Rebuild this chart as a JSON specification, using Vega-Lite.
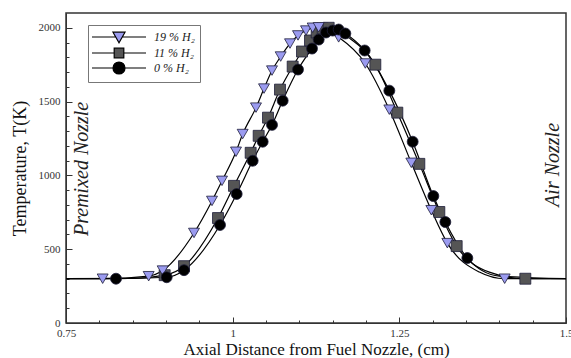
{
  "$schema": "https://vega.github.io/schema/vega-lite/v6.json",
  "width": 500,
  "height": 310,
  "autosize": "none",
  "padding": {"left": 66, "top": 13, "right": 5, "bottom": 35},
  "background": "white",
  "config": {
    "view": {"stroke": "#333", "strokeWidth": 1.5},
    "font": "Liberation Serif"
  },
  "data": {
    "values": [
      {"series": "11", "kind": "c", "x": 0.75, "t": 300},
      {"series": "11", "kind": "c", "x": 0.85, "t": 302},
      {"series": "11", "kind": "m", "x": 0.898, "t": 324},
      {"series": "11", "kind": "m", "x": 0.927, "t": 385},
      {"series": "11", "kind": "m", "x": 0.978, "t": 711},
      {"series": "11", "kind": "m", "x": 1.002, "t": 929},
      {"series": "11", "kind": "m", "x": 1.027, "t": 1153},
      {"series": "11", "kind": "m", "x": 1.039, "t": 1268},
      {"series": "11", "kind": "m", "x": 1.053, "t": 1391},
      {"series": "11", "kind": "m", "x": 1.071, "t": 1581},
      {"series": "11", "kind": "m", "x": 1.09, "t": 1737},
      {"series": "11", "kind": "m", "x": 1.104, "t": 1839},
      {"series": "11", "kind": "m", "x": 1.116, "t": 1914},
      {"series": "11", "kind": "m", "x": 1.126, "t": 1968},
      {"series": "11", "kind": "m", "x": 1.135, "t": 1995},
      {"series": "11", "kind": "m", "x": 1.144, "t": 2000},
      {"series": "11", "kind": "c", "x": 1.175, "t": 1930},
      {"series": "11", "kind": "m", "x": 1.214, "t": 1750},
      {"series": "11", "kind": "m", "x": 1.247, "t": 1425},
      {"series": "11", "kind": "m", "x": 1.28, "t": 1078},
      {"series": "11", "kind": "m", "x": 1.31, "t": 752},
      {"series": "11", "kind": "m", "x": 1.336, "t": 521},
      {"series": "11", "kind": "c", "x": 1.385, "t": 345},
      {"series": "11", "kind": "m", "x": 1.439, "t": 300},
      {"series": "11", "kind": "c", "x": 1.5, "t": 300},

      {"series": "19", "kind": "c", "x": 0.75, "t": 300},
      {"series": "19", "kind": "m", "x": 0.805, "t": 300},
      {"series": "19", "kind": "m", "x": 0.874, "t": 317},
      {"series": "19", "kind": "m", "x": 0.895, "t": 355},
      {"series": "19", "kind": "m", "x": 0.942, "t": 610},
      {"series": "19", "kind": "m", "x": 0.969, "t": 827},
      {"series": "19", "kind": "m", "x": 0.984, "t": 963},
      {"series": "19", "kind": "m", "x": 1.005, "t": 1160},
      {"series": "19", "kind": "m", "x": 1.015, "t": 1280},
      {"series": "19", "kind": "m", "x": 1.035, "t": 1459},
      {"series": "19", "kind": "m", "x": 1.047, "t": 1588},
      {"series": "19", "kind": "m", "x": 1.059, "t": 1710},
      {"series": "19", "kind": "m", "x": 1.072, "t": 1805},
      {"series": "19", "kind": "m", "x": 1.086, "t": 1893},
      {"series": "19", "kind": "m", "x": 1.098, "t": 1948},
      {"series": "19", "kind": "m", "x": 1.11, "t": 1981},
      {"series": "19", "kind": "m", "x": 1.12, "t": 2000},
      {"series": "19", "kind": "m", "x": 1.129, "t": 2003},
      {"series": "19", "kind": "m", "x": 1.159, "t": 1935},
      {"series": "19", "kind": "m", "x": 1.199, "t": 1758},
      {"series": "19", "kind": "m", "x": 1.235, "t": 1445},
      {"series": "19", "kind": "m", "x": 1.268, "t": 1085},
      {"series": "19", "kind": "m", "x": 1.298, "t": 764},
      {"series": "19", "kind": "m", "x": 1.322, "t": 541},
      {"series": "19", "kind": "c", "x": 1.37, "t": 345},
      {"series": "19", "kind": "m", "x": 1.408, "t": 300},
      {"series": "19", "kind": "c", "x": 1.5, "t": 300},

      {"series": "0", "kind": "c", "x": 0.75, "t": 300},
      {"series": "0", "kind": "m", "x": 0.825, "t": 300},
      {"series": "0", "kind": "m", "x": 0.901, "t": 310},
      {"series": "0", "kind": "m", "x": 0.927, "t": 358},
      {"series": "0", "kind": "m", "x": 0.981, "t": 664},
      {"series": "0", "kind": "m", "x": 1.006, "t": 874},
      {"series": "0", "kind": "m", "x": 1.03, "t": 1099},
      {"series": "0", "kind": "m", "x": 1.045, "t": 1228},
      {"series": "0", "kind": "m", "x": 1.059, "t": 1342},
      {"series": "0", "kind": "m", "x": 1.075, "t": 1506},
      {"series": "0", "kind": "m", "x": 1.098, "t": 1717},
      {"series": "0", "kind": "m", "x": 1.119, "t": 1859},
      {"series": "0", "kind": "m", "x": 1.129, "t": 1920},
      {"series": "0", "kind": "m", "x": 1.14, "t": 1968},
      {"series": "0", "kind": "m", "x": 1.15, "t": 1981},
      {"series": "0", "kind": "m", "x": 1.159, "t": 1988},
      {"series": "0", "kind": "m", "x": 1.169, "t": 1961},
      {"series": "0", "kind": "m", "x": 1.198, "t": 1846},
      {"series": "0", "kind": "m", "x": 1.235, "t": 1574},
      {"series": "0", "kind": "m", "x": 1.27, "t": 1228},
      {"series": "0", "kind": "m", "x": 1.301, "t": 860},
      {"series": "0", "kind": "m", "x": 1.319, "t": 684},
      {"series": "0", "kind": "m", "x": 1.352, "t": 440},
      {"series": "0", "kind": "c", "x": 1.4, "t": 318},
      {"series": "0", "kind": "c", "x": 1.5, "t": 300}
    ]
  },
  "encoding": {
    "x": {
      "field": "x",
      "type": "quantitative",
      "scale": {"domain": [0.75, 1.5], "nice": false, "zero": false},
      "axis": {
        "values": [0.75, 0.8, 0.85, 0.9, 0.95, 1, 1.05, 1.1, 1.15, 1.2, 1.25, 1.3, 1.35, 1.4, 1.45, 1.5],
        "labelExpr": "abs(datum.value*4 - round(datum.value*4)) < 1e-6 ? '' + datum.value : ''",
        "tickSize": {"condition": {"test": "abs(datum.value*4 - round(datum.value*4)) < 1e-6", "value": -6}, "value": -3},
        "tickColor": "#333",
        "domainColor": "#333",
        "grid": false,
        "labelFlush": false,
        "labelOverlap": false,
        "labelFont": "Liberation Serif",
        "labelFontSize": 11,
        "labelColor": "#333",
        "labelPadding": 10,
        "title": "Axial Distance from Fuel Nozzle, (cm)",
        "titleFont": "Liberation Serif",
        "titleFontSize": 17,
        "titleFontWeight": "normal",
        "titleColor": "#111",
        "titlePadding": 0
      }
    },
    "y": {
      "field": "t",
      "type": "quantitative",
      "scale": {"domain": [0, 2100], "nice": false},
      "axis": {
        "values": [0, 100, 200, 300, 400, 500, 600, 700, 800, 900, 1000, 1100, 1200, 1300, 1400, 1500, 1600, 1700, 1800, 1900, 2000],
        "labelExpr": "datum.value % 500 === 0 ? '' + datum.value : ''",
        "tickSize": {"condition": {"test": "datum.value % 500 === 0", "value": -6}, "value": -3},
        "tickColor": "#333",
        "domainColor": "#333",
        "grid": false,
        "labelOverlap": false,
        "labelFont": "Liberation Serif",
        "labelFontSize": 11,
        "labelColor": "#333",
        "labelPadding": 12,
        "title": "Temperature, T(K)",
        "titleFont": "Liberation Serif",
        "titleFontSize": 18,
        "titleFontWeight": "normal",
        "titleColor": "#111",
        "titlePadding": 9
      }
    }
  },
  "layer": [
    {
      "mark": {"type": "line", "interpolate": "monotone", "color": "black", "strokeWidth": 1.2},
      "encoding": {"detail": {"field": "series"}}
    },
    {
      "transform": [{"filter": "datum.kind === 'm'"}],
      "mark": {"type": "point", "filled": true, "opacity": 1, "stroke": "#1e1e3a", "strokeWidth": 0.8},
      "encoding": {
        "fill": {
          "field": "series",
          "type": "nominal",
          "scale": {"domain": ["19", "11", "0"], "range": ["#9b9bf0", "#555555", "#000000"]},
          "legend": {
            "title": null,
            "orient": "none",
            "legendX": 22,
            "legendY": 12,
            "symbolSize": 144,
            "symbolOffset": 19,
            "labelOffset": 28,
            "symbolType": {"expr": "datum.value === '19' ? 'M-4.5,0H-0.5M0.5,0H4.5M-1,-0.8H1L0,0.95Z' : datum.value === '11' ? 'M-4.5,0H-0.8M0.8,0H4.5M-0.8,-0.8H0.8V0.8H-0.8Z' : 'M-4.5,0H-1M1,0H4.5M-1,0A1,1,0,1,0,1,0A1,1,0,1,0,-1,0Z'"},
            "symbolStrokeColor": "black",
            "symbolStrokeWidth": 1.2,
            "labelFont": "Liberation Serif",
            "labelFontStyle": "italic",
            "labelFontSize": 12,
            "labelColor": "#222",
            "rowPadding": -4,
            "padding": 5,
            "strokeColor": "#777",
            "fillColor": "white",
            "labelExpr": "datum.value === '19' ? '19 % H₂' : datum.value === '11' ? '11 % H₂' : '\u20070 % H₂'"
          }
        },
        "shape": {
          "field": "series",
          "type": "nominal",
          "scale": {"domain": ["0", "11", "19"], "range": ["circle", "square", "triangle-down"]},
          "legend": null
        },
        "size": {"value": 120}
      }
    },
    {
      "data": {
        "values": [
          {"x": 0.774, "t": 1044, "label": "Premixed Nozzle"},
          {"x": 1.481, "t": 1071, "label": "Air Nozzle"}
        ]
      },
      "mark": {"type": "text", "angle": 270, "align": "center", "baseline": "middle", "font": "Liberation Serif", "fontStyle": "italic", "fontSize": 20, "color": "#222"},
      "encoding": {"text": {"field": "label"}}
    }
  ]
}
